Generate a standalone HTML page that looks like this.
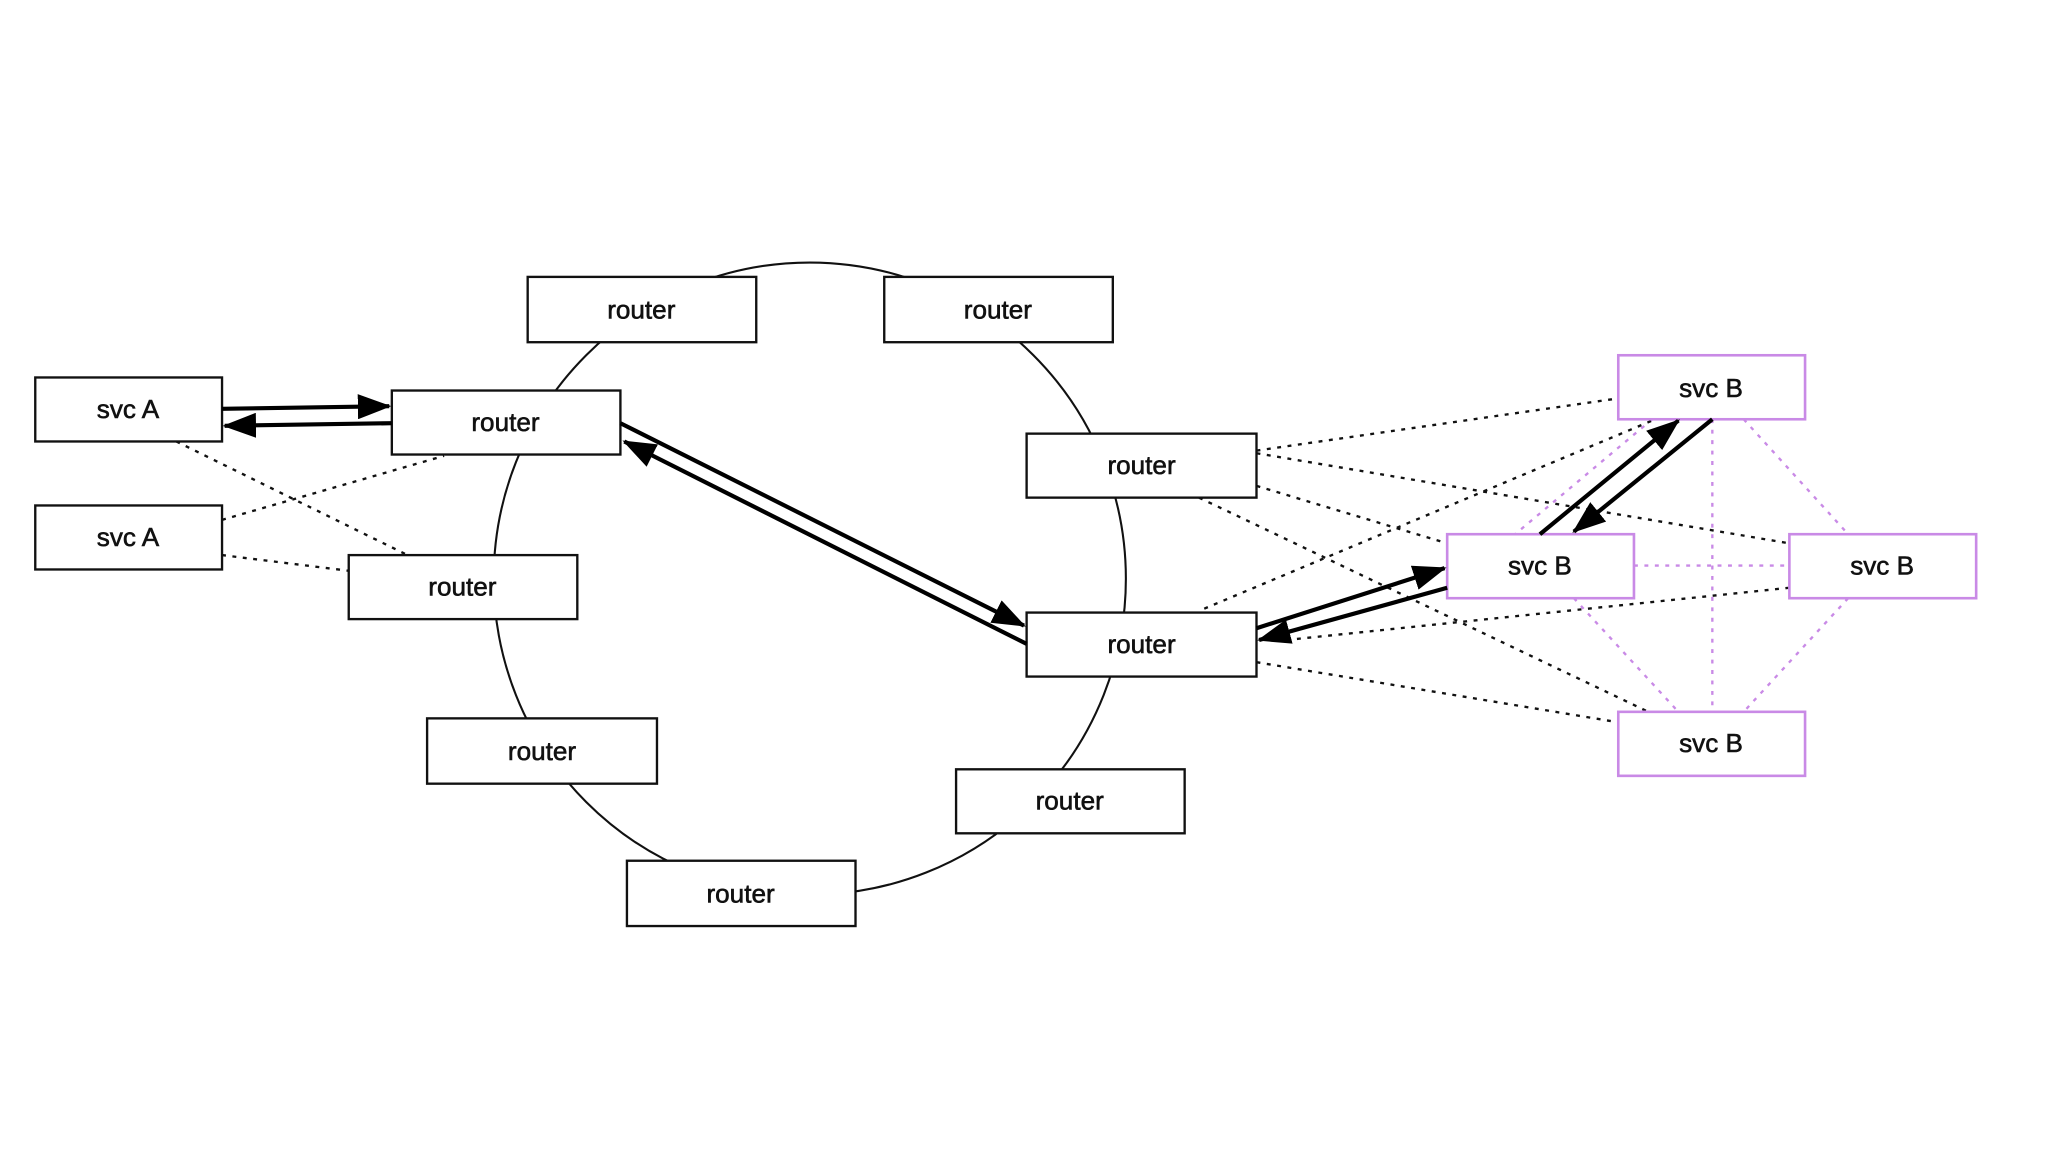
<!DOCTYPE html>
<html><head><meta charset="utf-8"><style>
html,body{margin:0;padding:0;background:#fff;}
svg{display:block;}
text{font-family:"Liberation Sans",sans-serif;font-size:20px;text-anchor:middle;dominant-baseline:central;fill:#111;stroke:#111;stroke-width:0.45;}
</style></head><body>
<svg width="2048" height="1152" viewBox="0 0 1568 882" xmlns="http://www.w3.org/2000/svg">
<defs>
<marker id="ah" markerWidth="8" markerHeight="6" refX="7.5" refY="3" orient="auto" markerUnits="strokeWidth">
<path d="M0,0 L8,3 L0,6 z" fill="#000"/>
</marker>
</defs>
<rect width="1568" height="882" fill="#fff"/>
<circle cx="620" cy="443" r="242" fill="none" stroke="#111" stroke-width="1.6"/>
<g stroke="#c98ae6" stroke-width="1.8" stroke-dasharray="3,5" fill="none">
<line x1="1311" y1="321" x2="1311" y2="545"/>
<line x1="1251" y1="433" x2="1370" y2="433"/>
<line x1="1265" y1="321" x2="1160" y2="409"/>
<line x1="1335" y1="321" x2="1415" y2="409"/>
<line x1="1205" y1="458" x2="1285" y2="545"/>
<line x1="1415" y1="458" x2="1335" y2="545"/>
</g>
<g stroke="#111" stroke-width="1.8" stroke-dasharray="3,5" fill="none">
<line x1="135" y1="338" x2="312" y2="425"/>
<line x1="170" y1="398" x2="340" y2="349"/>
<line x1="170" y1="425" x2="267" y2="437"/>
<line x1="962" y1="345" x2="1239" y2="305"/>
<line x1="962" y1="347" x2="1370" y2="416"/>
<line x1="962" y1="372" x2="1108" y2="416"/>
<line x1="918" y1="381" x2="1262" y2="545"/>
<line x1="922" y1="466" x2="1265" y2="322"/>
<line x1="962" y1="507" x2="1239" y2="553"/>
<line x1="985" y1="490" x2="1370" y2="450"/>
</g>
<g fill="#fff" stroke="#111" stroke-width="1.8">
<rect x="404" y="212" width="175" height="50"/>
<rect x="677" y="212" width="175" height="50"/>
<rect x="27" y="289" width="143" height="49"/>
<rect x="27" y="387" width="143" height="49"/>
<rect x="300" y="299" width="175" height="49"/>
<rect x="267" y="425" width="175" height="49"/>
<rect x="327" y="550" width="176" height="50"/>
<rect x="480" y="659" width="175" height="50"/>
<rect x="732" y="589" width="175" height="49"/>
<rect x="786" y="332" width="176" height="49"/>
<rect x="786" y="469" width="176" height="49"/>
</g>
<g fill="#fff" stroke="#c98ae6" stroke-width="2">
<rect x="1239" y="272" width="143" height="49"/>
<rect x="1108" y="409" width="143" height="49"/>
<rect x="1370" y="409" width="143" height="49"/>
<rect x="1239" y="545" width="143" height="49"/>
</g>
<g stroke="#000" stroke-width="3.2" fill="none" marker-end="url(#ah)">
<line x1="170" y1="313" x2="298" y2="311"/>
<line x1="300" y1="324" x2="172" y2="326"/>
<line x1="475" y1="324" x2="784" y2="479"/>
<line x1="786" y1="493" x2="478" y2="338"/>
<line x1="962" y1="481" x2="1106" y2="435"/>
<line x1="1108" y1="450" x2="964" y2="490"/>
<line x1="1179" y1="409" x2="1285" y2="322"/>
<line x1="1311" y1="321" x2="1205" y2="407"/>
</g>
<text x="491" y="237">router</text>
<text x="764" y="237">router</text>
<text x="98" y="313">svc A</text>
<text x="98" y="411">svc A</text>
<text x="387" y="323">router</text>
<text x="354" y="449">router</text>
<text x="415" y="575">router</text>
<text x="567" y="684">router</text>
<text x="819" y="613">router</text>
<text x="874" y="356">router</text>
<text x="874" y="493">router</text>
<text x="1310" y="297">svc B</text>
<text x="1179" y="433">svc B</text>
<text x="1441" y="433">svc B</text>
<text x="1310" y="569">svc B</text>
</svg>
</body></html>
